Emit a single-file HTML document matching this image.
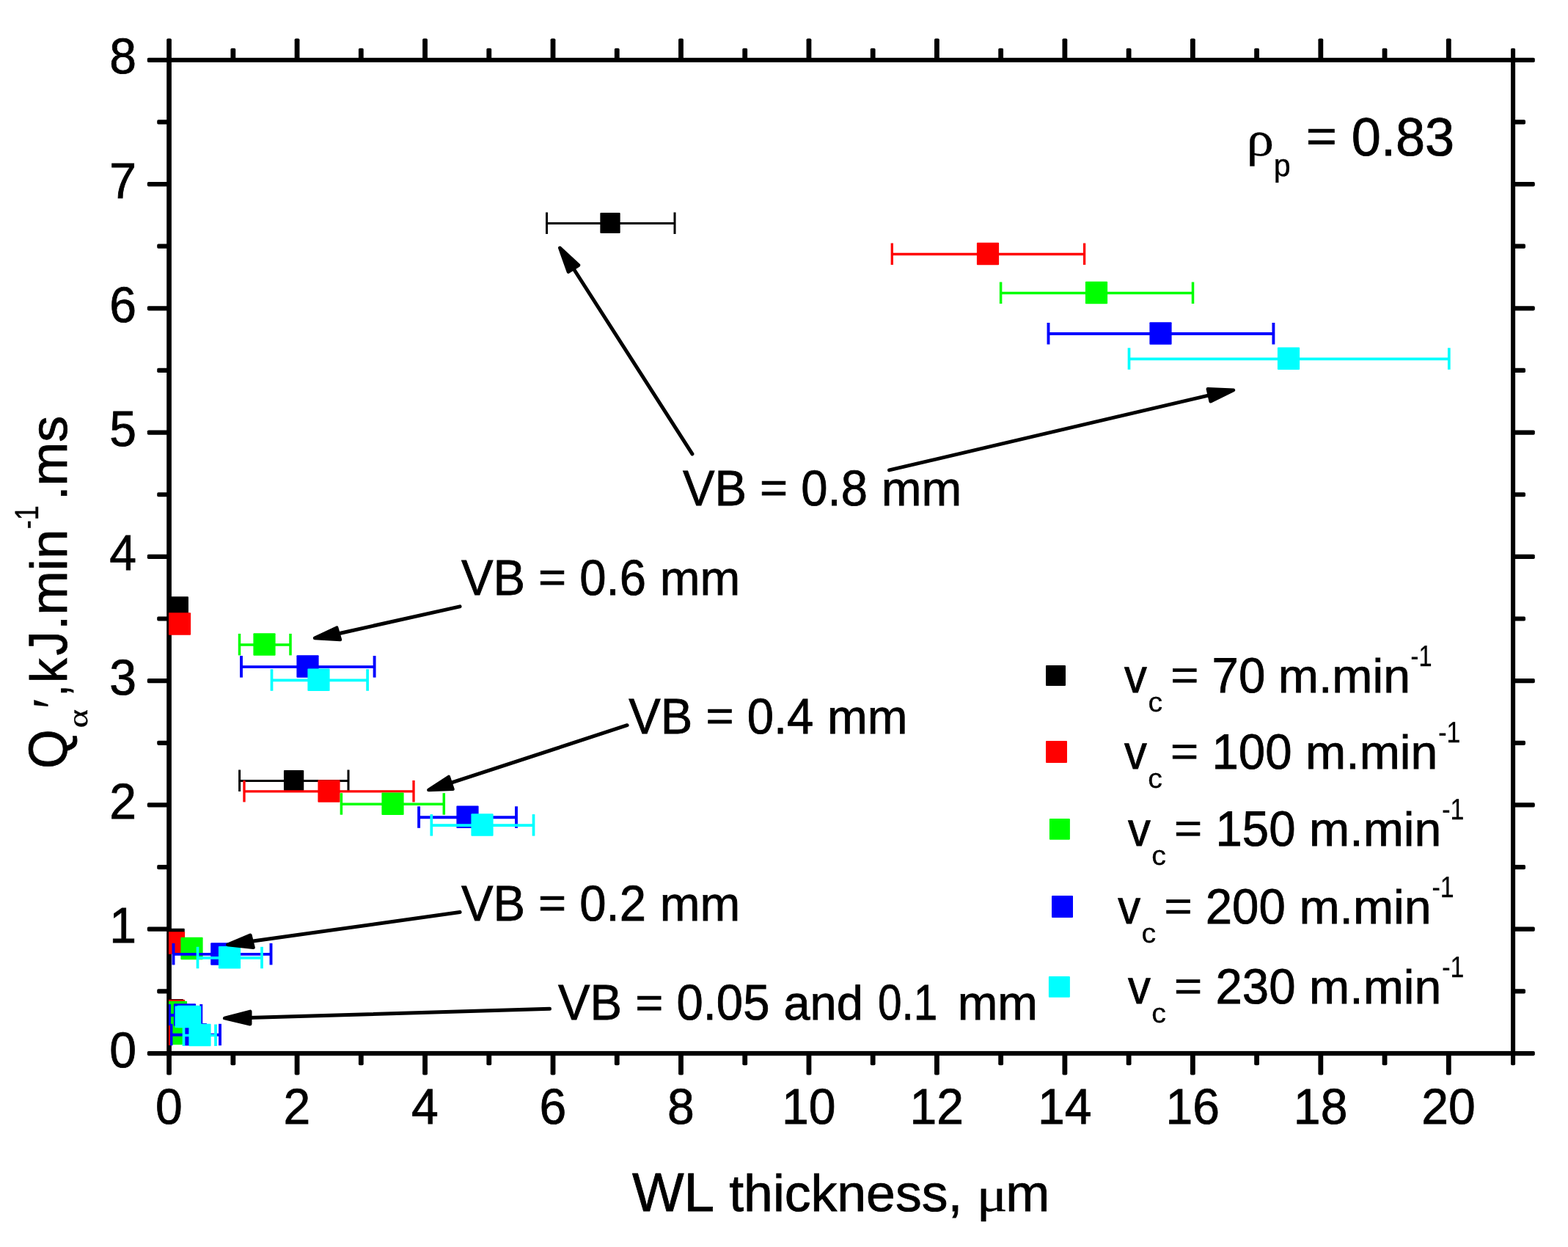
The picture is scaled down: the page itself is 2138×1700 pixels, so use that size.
<!DOCTYPE html>
<html lang="en"><head><meta charset="utf-8"><title>Q vs WL thickness</title>
<style>html,body{margin:0;padding:0;background:#fff;overflow:hidden}svg{display:block}text{font-family:"Liberation Sans",Arial,sans-serif;fill:#000;stroke:#000;stroke-width:0.8px;font-kerning:none;text-rendering:geometricPrecision}.sy{font-family:"Liberation Serif","DejaVu Serif",serif}</style></head><body>
<svg width="2138" height="1700" viewBox="0 0 2138 1700">
<rect width="2138" height="1700" fill="#fff"/>
<g fill="#000">
<rect x="227.2" y="78.8" width="6.7" height="1360.4"/>
<rect x="2060" y="78.8" width="6.1" height="1360.4"/>
<rect x="227.2" y="78.8" width="1838.9" height="6.1"/>
<rect x="227.2" y="1432.9" width="1838.9" height="6.3"/>
<rect x="227.2" y="52.4" width="6.7" height="30" rx="1.8"/>
<rect x="227.2" y="1435.4" width="6.7" height="30.2" rx="1.8"/>
<rect x="314.44" y="65.8" width="6.8" height="16.6" rx="1.8"/>
<rect x="314.44" y="1435.4" width="6.8" height="16.8" rx="1.8"/>
<rect x="401.67" y="52.4" width="6.8" height="30" rx="1.8"/>
<rect x="401.67" y="1435.4" width="6.8" height="30.2" rx="1.8"/>
<rect x="488.9" y="65.8" width="6.8" height="16.6" rx="1.8"/>
<rect x="488.9" y="1435.4" width="6.8" height="16.8" rx="1.8"/>
<rect x="576.14" y="52.4" width="6.8" height="30" rx="1.8"/>
<rect x="576.14" y="1435.4" width="6.8" height="30.2" rx="1.8"/>
<rect x="663.38" y="65.8" width="6.8" height="16.6" rx="1.8"/>
<rect x="663.38" y="1435.4" width="6.8" height="16.8" rx="1.8"/>
<rect x="750.61" y="52.4" width="6.8" height="30" rx="1.8"/>
<rect x="750.61" y="1435.4" width="6.8" height="30.2" rx="1.8"/>
<rect x="837.85" y="65.8" width="6.8" height="16.6" rx="1.8"/>
<rect x="837.85" y="1435.4" width="6.8" height="16.8" rx="1.8"/>
<rect x="925.08" y="52.4" width="6.8" height="30" rx="1.8"/>
<rect x="925.08" y="1435.4" width="6.8" height="30.2" rx="1.8"/>
<rect x="1012.32" y="65.8" width="6.8" height="16.6" rx="1.8"/>
<rect x="1012.32" y="1435.4" width="6.8" height="16.8" rx="1.8"/>
<rect x="1099.55" y="52.4" width="6.8" height="30" rx="1.8"/>
<rect x="1099.55" y="1435.4" width="6.8" height="30.2" rx="1.8"/>
<rect x="1186.78" y="65.8" width="6.8" height="16.6" rx="1.8"/>
<rect x="1186.78" y="1435.4" width="6.8" height="16.8" rx="1.8"/>
<rect x="1274.02" y="52.4" width="6.8" height="30" rx="1.8"/>
<rect x="1274.02" y="1435.4" width="6.8" height="30.2" rx="1.8"/>
<rect x="1361.25" y="65.8" width="6.8" height="16.6" rx="1.8"/>
<rect x="1361.25" y="1435.4" width="6.8" height="16.8" rx="1.8"/>
<rect x="1448.49" y="52.4" width="6.8" height="30" rx="1.8"/>
<rect x="1448.49" y="1435.4" width="6.8" height="30.2" rx="1.8"/>
<rect x="1535.72" y="65.8" width="6.8" height="16.6" rx="1.8"/>
<rect x="1535.72" y="1435.4" width="6.8" height="16.8" rx="1.8"/>
<rect x="1622.96" y="52.4" width="6.8" height="30" rx="1.8"/>
<rect x="1622.96" y="1435.4" width="6.8" height="30.2" rx="1.8"/>
<rect x="1710.19" y="65.8" width="6.8" height="16.6" rx="1.8"/>
<rect x="1710.19" y="1435.4" width="6.8" height="16.8" rx="1.8"/>
<rect x="1797.43" y="52.4" width="6.8" height="30" rx="1.8"/>
<rect x="1797.43" y="1435.4" width="6.8" height="30.2" rx="1.8"/>
<rect x="1884.66" y="65.8" width="6.8" height="16.6" rx="1.8"/>
<rect x="1884.66" y="1435.4" width="6.8" height="16.8" rx="1.8"/>
<rect x="1971.9" y="52.4" width="6.8" height="30" rx="1.8"/>
<rect x="1971.9" y="1435.4" width="6.8" height="30.2" rx="1.8"/>
<rect x="2060" y="65.8" width="6.1" height="16.6" rx="1.8"/>
<rect x="2060" y="1435.4" width="6.1" height="16.8" rx="1.8"/>
<rect x="200.8" y="1432.95" width="30.6" height="6.2" rx="1.8"/>
<rect x="2062.5" y="1432.95" width="30.3" height="6.2" rx="1.8"/>
<rect x="214.2" y="1348.26" width="17.2" height="6.2" rx="1.8"/>
<rect x="2062.5" y="1348.26" width="17.5" height="6.2" rx="1.8"/>
<rect x="200.8" y="1263.62" width="30.6" height="6.2" rx="1.8"/>
<rect x="2062.5" y="1263.62" width="30.3" height="6.2" rx="1.8"/>
<rect x="214.2" y="1178.98" width="17.2" height="6.2" rx="1.8"/>
<rect x="2062.5" y="1178.98" width="17.5" height="6.2" rx="1.8"/>
<rect x="200.8" y="1094.34" width="30.6" height="6.2" rx="1.8"/>
<rect x="2062.5" y="1094.34" width="30.3" height="6.2" rx="1.8"/>
<rect x="214.2" y="1009.7" width="17.2" height="6.2" rx="1.8"/>
<rect x="2062.5" y="1009.7" width="17.5" height="6.2" rx="1.8"/>
<rect x="200.8" y="925.06" width="30.6" height="6.2" rx="1.8"/>
<rect x="2062.5" y="925.06" width="30.3" height="6.2" rx="1.8"/>
<rect x="214.2" y="840.42" width="17.2" height="6.2" rx="1.8"/>
<rect x="2062.5" y="840.42" width="17.5" height="6.2" rx="1.8"/>
<rect x="200.8" y="755.78" width="30.6" height="6.2" rx="1.8"/>
<rect x="2062.5" y="755.78" width="30.3" height="6.2" rx="1.8"/>
<rect x="214.2" y="671.14" width="17.2" height="6.2" rx="1.8"/>
<rect x="2062.5" y="671.14" width="17.5" height="6.2" rx="1.8"/>
<rect x="200.8" y="586.5" width="30.6" height="6.2" rx="1.8"/>
<rect x="2062.5" y="586.5" width="30.3" height="6.2" rx="1.8"/>
<rect x="214.2" y="501.86" width="17.2" height="6.2" rx="1.8"/>
<rect x="2062.5" y="501.86" width="17.5" height="6.2" rx="1.8"/>
<rect x="200.8" y="417.22" width="30.6" height="6.2" rx="1.8"/>
<rect x="2062.5" y="417.22" width="30.3" height="6.2" rx="1.8"/>
<rect x="214.2" y="332.58" width="17.2" height="6.2" rx="1.8"/>
<rect x="2062.5" y="332.58" width="17.5" height="6.2" rx="1.8"/>
<rect x="200.8" y="247.94" width="30.6" height="6.2" rx="1.8"/>
<rect x="2062.5" y="247.94" width="30.3" height="6.2" rx="1.8"/>
<rect x="214.2" y="163.3" width="17.2" height="6.2" rx="1.8"/>
<rect x="2062.5" y="163.3" width="17.5" height="6.2" rx="1.8"/>
<rect x="200.8" y="78.75" width="30.6" height="6.2" rx="1.8"/>
<rect x="2062.5" y="78.75" width="30.3" height="6.2" rx="1.8"/>
</g>
<g font-size="68.5" text-anchor="middle">
<text transform="translate(230.4 1532) scale(0.965 1)">0</text>
<text transform="translate(404.87 1532) scale(0.965 1)">2</text>
<text transform="translate(579.34 1532) scale(0.965 1)">4</text>
<text transform="translate(753.81 1532) scale(0.965 1)">6</text>
<text transform="translate(928.28 1532) scale(0.965 1)">8</text>
<text transform="translate(1102.75 1532) scale(0.965 1)">10</text>
<text transform="translate(1277.22 1532) scale(0.965 1)">12</text>
<text transform="translate(1451.69 1532) scale(0.965 1)">14</text>
<text transform="translate(1626.16 1532) scale(0.965 1)">16</text>
<text transform="translate(1800.63 1532) scale(0.965 1)">18</text>
<text transform="translate(1975.1 1532) scale(0.965 1)">20</text>
</g>
<g font-size="68.5" text-anchor="end">
<text transform="translate(186.1 1454.6) scale(0.965 1)">0</text>
<text transform="translate(186.1 1285.32) scale(0.965 1)">1</text>
<text transform="translate(186.1 1116.04) scale(0.965 1)">2</text>
<text transform="translate(186.1 946.76) scale(0.965 1)">3</text>
<text transform="translate(186.1 777.48) scale(0.965 1)">4</text>
<text transform="translate(186.1 608.2) scale(0.965 1)">5</text>
<text transform="translate(186.1 438.92) scale(0.965 1)">6</text>
<text transform="translate(186.1 269.64) scale(0.965 1)">7</text>
<text transform="translate(186.1 100.36) scale(0.965 1)">8</text>
</g>
<defs><clipPath id="cp"><rect x="230" y="81.76" width="1833" height="1354.24"/></clipPath></defs>
<g clip-path="url(#cp)">
<g fill="#000" stroke="#000" stroke-width="3.0">
<line x1="745.5" y1="304.5" x2="920" y2="304.5"/>
<line x1="745.5" y1="289.5" x2="745.5" y2="319"/>
<line x1="920" y1="289.5" x2="920" y2="319"/>
<line x1="326.6" y1="1064.5" x2="475" y2="1064.5"/>
<line x1="326.6" y1="1049.5" x2="326.6" y2="1079"/>
<line x1="475" y1="1049.5" x2="475" y2="1079"/>
<rect x="818.35" y="290.1" width="27.3" height="27.8" rx="1" stroke="none"/>
<rect x="229.65" y="813.2" width="27.3" height="27.8" rx="1" stroke="none"/>
<rect x="386.95" y="1050.1" width="27.3" height="27.8" rx="1" stroke="none"/>
<rect x="224.45" y="1265.8" width="27.3" height="27.8" rx="1" stroke="none"/>
<rect x="222.65" y="1361.9" width="27.3" height="27.8" rx="1" stroke="none"/>
</g>
<g fill="#f00" stroke="#f00" stroke-width="3.3">
<line x1="1216.3" y1="346.5" x2="1478.6" y2="346.5"/>
<line x1="1216.3" y1="331.5" x2="1216.3" y2="361"/>
<line x1="1478.6" y1="331.5" x2="1478.6" y2="361"/>
<line x1="333" y1="1078.9" x2="564" y2="1078.9"/>
<line x1="333" y1="1063.9" x2="333" y2="1093.4"/>
<line x1="564" y1="1063.9" x2="564" y2="1093.4"/>
<rect x="1331.9" y="330.75" width="30.2" height="30.5" rx="1" stroke="none"/>
<rect x="229.9" y="835.15" width="30.2" height="30.5" rx="1" stroke="none"/>
<rect x="433.4" y="1063.15" width="30.2" height="30.5" rx="1" stroke="none"/>
<rect x="221.9" y="1270.25" width="30.2" height="30.5" rx="1" stroke="none"/>
<rect x="221.9" y="1362.75" width="30.2" height="30.5" rx="1" stroke="none"/>
</g>
<g fill="#0f0" stroke="#0f0" stroke-width="3.5">
<line x1="1364.6" y1="399.5" x2="1626.5" y2="399.5"/>
<line x1="1364.6" y1="384.5" x2="1364.6" y2="414"/>
<line x1="1626.5" y1="384.5" x2="1626.5" y2="414"/>
<line x1="326.5" y1="878.9" x2="396" y2="878.9"/>
<line x1="326.5" y1="863.9" x2="326.5" y2="893.4"/>
<line x1="396" y1="863.9" x2="396" y2="893.4"/>
<line x1="465.4" y1="1096.2" x2="605.3" y2="1096.2"/>
<line x1="465.4" y1="1081.2" x2="465.4" y2="1110.7"/>
<line x1="605.3" y1="1081.2" x2="605.3" y2="1110.7"/>
<rect x="1479.9" y="383.75" width="30.2" height="30.5" rx="1" stroke="none"/>
<rect x="345.4" y="863.15" width="30.2" height="30.5" rx="1" stroke="none"/>
<rect x="520.4" y="1080.45" width="30.2" height="30.5" rx="1" stroke="none"/>
<rect x="246.4" y="1277.75" width="30.2" height="30.5" rx="1" stroke="none"/>
<rect x="224.9" y="1364.75" width="30.2" height="30.5" rx="1" stroke="none"/>
<rect x="218.9" y="1393.75" width="30.2" height="30.5" rx="1" stroke="none"/>
</g>
<g fill="#00f" stroke="#00f" stroke-width="3.9">
<line x1="1429.5" y1="455" x2="1736.4" y2="455"/>
<line x1="1429.5" y1="440" x2="1429.5" y2="469.5"/>
<line x1="1736.4" y1="440" x2="1736.4" y2="469.5"/>
<line x1="329" y1="909.1" x2="510.6" y2="909.1"/>
<line x1="329" y1="894.1" x2="329" y2="923.6"/>
<line x1="510.6" y1="894.1" x2="510.6" y2="923.6"/>
<line x1="571.1" y1="1114.3" x2="704" y2="1114.3"/>
<line x1="571.1" y1="1099.3" x2="571.1" y2="1128.8"/>
<line x1="704" y1="1099.3" x2="704" y2="1128.8"/>
<line x1="236.5" y1="1300.9" x2="369.5" y2="1300.9"/>
<line x1="236.5" y1="1285.9" x2="236.5" y2="1315.4"/>
<line x1="369.5" y1="1285.9" x2="369.5" y2="1315.4"/>
<line x1="231" y1="1384" x2="274.3" y2="1384"/>
<line x1="231" y1="1369" x2="231" y2="1398.5"/>
<line x1="274.3" y1="1369" x2="274.3" y2="1398.5"/>
<line x1="233.5" y1="1410.8" x2="300" y2="1410.8"/>
<line x1="233.5" y1="1395.8" x2="233.5" y2="1425.3"/>
<line x1="300" y1="1395.8" x2="300" y2="1425.3"/>
<rect x="1567.4" y="439.25" width="30.2" height="30.5" rx="1" stroke="none"/>
<rect x="404.4" y="893.35" width="30.2" height="30.5" rx="1" stroke="none"/>
<rect x="622.4" y="1098.55" width="30.2" height="30.5" rx="1" stroke="none"/>
<rect x="287.2" y="1285.15" width="30.2" height="30.5" rx="1" stroke="none"/>
<rect x="236.9" y="1368.25" width="30.2" height="30.5" rx="1" stroke="none"/>
<rect x="251.9" y="1395.05" width="30.2" height="30.5" rx="1" stroke="none"/>
</g>
<g fill="#0ff" stroke="#0ff" stroke-width="3.7">
<line x1="1539.5" y1="489.3" x2="1975.8" y2="489.3"/>
<line x1="1539.5" y1="474.3" x2="1539.5" y2="503.8"/>
<line x1="1975.8" y1="474.3" x2="1975.8" y2="503.8"/>
<line x1="370.5" y1="927.3" x2="501.1" y2="927.3"/>
<line x1="370.5" y1="912.3" x2="370.5" y2="941.8"/>
<line x1="501.1" y1="912.3" x2="501.1" y2="941.8"/>
<line x1="588.3" y1="1125.1" x2="727.5" y2="1125.1"/>
<line x1="588.3" y1="1110.1" x2="588.3" y2="1139.6"/>
<line x1="727.5" y1="1110.1" x2="727.5" y2="1139.6"/>
<line x1="269.5" y1="1305.8" x2="357" y2="1305.8"/>
<line x1="269.5" y1="1290.8" x2="269.5" y2="1320.3"/>
<line x1="357" y1="1290.8" x2="357" y2="1320.3"/>
<line x1="240.4" y1="1386.5" x2="272.5" y2="1386.5"/>
<line x1="240.4" y1="1371.5" x2="240.4" y2="1401"/>
<line x1="272.5" y1="1371.5" x2="272.5" y2="1401"/>
<line x1="250.5" y1="1411.5" x2="294" y2="1411.5"/>
<line x1="250.5" y1="1396.5" x2="250.5" y2="1426"/>
<line x1="294" y1="1396.5" x2="294" y2="1426"/>
<rect x="1741.9" y="473.55" width="30.2" height="30.5" rx="1" stroke="none"/>
<rect x="419.4" y="911.55" width="30.2" height="30.5" rx="1" stroke="none"/>
<rect x="642.4" y="1109.35" width="30.2" height="30.5" rx="1" stroke="none"/>
<rect x="297.9" y="1290.05" width="30.2" height="30.5" rx="1" stroke="none"/>
<rect x="241.7" y="1370.75" width="30.2" height="30.5" rx="1" stroke="none"/>
<rect x="257.4" y="1395.75" width="30.2" height="30.5" rx="1" stroke="none"/>
</g>
<rect x="230" y="1398" width="2" height="27" fill="#f00"/>
</g>
<g stroke="#000" stroke-width="5" stroke-linecap="round" stroke-linejoin="round" fill="#000">
<line x1="943.92" y1="618.82" x2="780.87" y2="364.48"/>
<polygon stroke-width="4.8" points="763.42,338 788.84,361.61 774.98,370.51"/>
<line x1="1212.55" y1="640.94" x2="1650.75" y2="538.33"/>
<polygon stroke-width="4.8" points="1681.75,531.89 1646.94,530.28 1650.81,547.14"/>
<line x1="627.05" y1="826.84" x2="459.61" y2="864.19"/>
<polygon stroke-width="4.8" points="429.21,869.95 459.1,855.87 463.74,871.95"/>
<line x1="855.1" y1="988.72" x2="612.85" y2="1067.93"/>
<polygon stroke-width="4.8" points="584.49,1076.97 611.76,1059.15 617.29,1075.67"/>
<line x1="627.12" y1="1243.58" x2="341.44" y2="1283.47"/>
<polygon stroke-width="4.8" points="310.38,1287.86 341.23,1274.92 345.4,1291.64"/>
<line x1="749.5" y1="1375.36" x2="339.09" y2="1387.56"/>
<polygon stroke-width="4.8" points="306.3,1388.02 341.11,1378.98 341.08,1396.06"/>
</g>
<g><text transform="translate(930.96 689) scale(0.9524 1)" font-size="68.5">VB </text><text transform="translate(1036.12 685.24) scale(0.9524 0.86)" font-size="68.5">= </text><text transform="translate(1092.34 689) scale(0.9524 1)" font-size="68.5">0.8 </text><text transform="translate(1201.74 689) scale(1.0034 1)" font-size="65.5">mm</text></g>
<g><text transform="translate(628.91 810.9) scale(0.9524 1)" font-size="68.5">VB </text><text transform="translate(734.07 807.14) scale(0.9524 0.86)" font-size="68.5">= </text><text transform="translate(790.29 810.9) scale(0.9524 1)" font-size="68.5">0.6 </text><text transform="translate(899.69 810.9) scale(1.0034 1)" font-size="65.5">mm</text></g>
<g><text transform="translate(857.31 999.9) scale(0.9524 1)" font-size="68.5">VB </text><text transform="translate(962.47 996.14) scale(0.9524 0.86)" font-size="68.5">= </text><text transform="translate(1018.69 999.9) scale(0.9524 1)" font-size="68.5">0.4 </text><text transform="translate(1128.09 999.9) scale(1.0034 1)" font-size="65.5">mm</text></g>
<g><text transform="translate(628.91 1254.9) scale(0.9524 1)" font-size="68.5">VB </text><text transform="translate(734.07 1251.14) scale(0.9524 0.86)" font-size="68.5">= </text><text transform="translate(790.29 1254.9) scale(0.9524 1)" font-size="68.5">0.2 </text><text transform="translate(899.69 1254.9) scale(1.0034 1)" font-size="65.5">mm</text></g>
<g><text transform="translate(761.01 1390.4) scale(0.9526 1)" font-size="68.5">VB </text><text transform="translate(866.19 1386.64) scale(0.9526 0.86)" font-size="68.5">= </text><text transform="translate(922.43 1390.4) scale(0.9526 1)" font-size="68.5">0.05 </text><text transform="translate(1068.54 1390.4) scale(0.9904 1)" font-size="65.5">and </text><text transform="translate(1197.12 1390.4) scale(0.8531 1)" font-size="68.5">0.1 </text><text transform="translate(1305.64 1390.4) scale(1.0014 1)" font-size="65.5">mm</text></g>
<g><text class="sy" transform="translate(1699.39 212.25) scale(1.1250 1)" font-size="67" style="stroke-width:0.3px">ρ</text><text transform="translate(1736.65 239.5) scale(0.9567 1)" font-size="43" style="stroke-width:0.4px">p </text><text transform="translate(1780.68 206.51) scale(0.9811 0.86)" font-size="73.5">= </text><text transform="translate(1842.82 211.9) scale(0.9811 1)" font-size="73.5">0.83</text></g>
<rect x="1426" y="906.95" width="27" height="28.1" rx="1" fill="#000"/>
<g><text transform="translate(1533.09 943.6) scale(0.9484 1)" font-size="65">v</text><text transform="translate(1565.38 969.55) scale(1.0486 1)" font-size="37.6" style="stroke-width:0.3px">c </text><text transform="translate(1596.21 939.89) scale(0.9670 0.86)" font-size="67.6">= </text><text transform="translate(1652.54 943.6) scale(0.9670 1)" font-size="67.6">70 </text><text transform="translate(1742.8 943.6) scale(1.0184 1)" font-size="65">m.min</text><text transform="translate(1923.6 907.85) scale(0.8055 1)" font-size="40.4" style="stroke-width:0.3px">-1</text></g>
<rect x="1426" y="1010.05" width="29" height="29.9" rx="1" fill="#f00"/>
<g><text transform="translate(1532.99 1048.2) scale(0.9484 1)" font-size="65">v</text><text transform="translate(1565.28 1074.15) scale(1.0486 1)" font-size="37.6" style="stroke-width:0.3px">c </text><text transform="translate(1596.11 1044.49) scale(0.9670 0.86)" font-size="67.6">= </text><text transform="translate(1652.44 1048.2) scale(0.9670 1)" font-size="67.6">100 </text><text transform="translate(1780.1 1048.2) scale(1.0184 1)" font-size="65">m.min</text><text transform="translate(1961.14 1012.45) scale(0.8397 1)" font-size="40.4" style="stroke-width:0.3px">-1</text></g>
<rect x="1430.9" y="1116" width="28" height="28.8" rx="1" fill="#0f0"/>
<g><text transform="translate(1537.99 1153.2) scale(0.9484 1)" font-size="65">v</text><text transform="translate(1570.28 1179.15) scale(1.0486 1)" font-size="37.6" style="stroke-width:0.3px">c </text><text transform="translate(1601.11 1149.49) scale(0.9670 0.86)" font-size="67.6">= </text><text transform="translate(1657.44 1153.2) scale(0.9670 1)" font-size="67.6">150 </text><text transform="translate(1785.1 1153.2) scale(1.0184 1)" font-size="65">m.min</text><text transform="translate(1966.14 1117.45) scale(0.8397 1)" font-size="40.4" style="stroke-width:0.3px">-1</text></g>
<rect x="1434" y="1221.1" width="29" height="29.8" rx="1" fill="#00f"/>
<g><text transform="translate(1524.29 1258.7) scale(0.9484 1)" font-size="65">v</text><text transform="translate(1556.58 1284.65) scale(1.0486 1)" font-size="37.6" style="stroke-width:0.3px">c </text><text transform="translate(1587.41 1254.99) scale(0.9670 0.86)" font-size="67.6">= </text><text transform="translate(1643.74 1258.7) scale(0.9670 1)" font-size="67.6">200 </text><text transform="translate(1771.4 1258.7) scale(1.0184 1)" font-size="65">m.min</text><text transform="translate(1952.44 1222.95) scale(0.8397 1)" font-size="40.4" style="stroke-width:0.3px">-1</text></g>
<rect x="1429.9" y="1330.9" width="29" height="28.8" rx="1" fill="#0ff"/>
<g><text transform="translate(1537.99 1367.8) scale(0.9484 1)" font-size="65">v</text><text transform="translate(1570.28 1393.75) scale(1.0486 1)" font-size="37.6" style="stroke-width:0.3px">c </text><text transform="translate(1601.11 1364.09) scale(0.9670 0.86)" font-size="67.6">= </text><text transform="translate(1657.44 1367.8) scale(0.9670 1)" font-size="67.6">230 </text><text transform="translate(1785.1 1367.8) scale(1.0184 1)" font-size="65">m.min</text><text transform="translate(1966.14 1332.05) scale(0.8397 1)" font-size="40.4" style="stroke-width:0.3px">-1</text></g>
<g><text transform="translate(861.97 1650.5) scale(1.0055 1)" font-size="74.4">WL </text><text transform="translate(994.22 1650.5) scale(1.0148 1)" font-size="70.5">thickness, </text><text class="sy" transform="translate(1331.55 1650.75) scale(1.1966 1)" font-size="66" style="stroke-width:0.3px">μ</text><text transform="translate(1371.31 1650.5) scale(1.0223 1)" font-size="70.5">m</text></g>
<g transform="translate(91.1 1045.2) rotate(-90)">
<g><text transform="translate(-2.86 -0.3) scale(0.9254 1)" font-size="74.4">Q</text><text class="sy" transform="translate(52.69 28.05) scale(1.2835 1)" font-size="38" style="stroke-width:0.3px">α</text><text class="sy" transform="translate(78.56 8.6) scale(0.9239 1)" font-size="82" style="stroke:none">′</text><text transform="translate(96.25 -0.3) scale(0.7660 1)" font-size="70.5">,</text><text transform="translate(114.08 -0.3) scale(0.9509 1)" font-size="70.5">k</text><text transform="translate(151.77 -0.3) scale(0.8848 1)" font-size="74.4">J</text><text transform="translate(186.16 -0.3) scale(1.0322 1)" font-size="70.5">.min</text><text transform="translate(324 -39.1) scale(0.7943 1)" font-size="45.4" style="stroke-width:0.4px">-1</text><text transform="translate(362.86 -0.3) scale(1.0165 1)" font-size="70.5">.ms</text></g>
</g>
</svg></body></html>
